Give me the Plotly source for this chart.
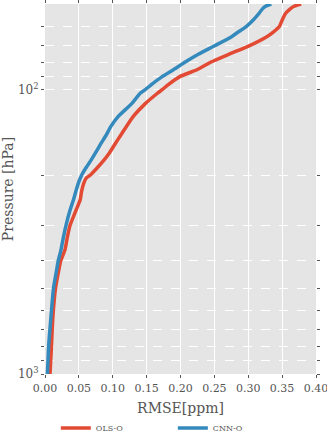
import math
import plotly.graph_objects as go

# pressure levels [hPa] and RMSE [ppm]
pressure = [1000, 900, 800, 700, 600, 500, 430, 400, 365, 330, 300, 265, 244, 228,
            214, 205, 200, 189, 177, 167, 155, 145, 135, 124, 112, 103, 100, 96, 90,
            85, 80, 75, 70, 65, 63, 60, 57, 54, 52, 51, 50]

ols_o = [0.0074, 0.0084, 0.0095, 0.0106, 0.0123, 0.0155, 0.0205, 0.0232, 0.0296, 0.033,
         0.037, 0.0459, 0.052, 0.054, 0.057, 0.0607, 0.0666, 0.0765, 0.087, 0.095,
         0.1036, 0.1115, 0.120, 0.1306, 0.148, 0.166, 0.173, 0.182, 0.199, 0.225,
         0.245, 0.272, 0.302, 0.328, 0.336, 0.346, 0.350, 0.355, 0.362, 0.367, 0.378]

cnn_o = [0.0035, 0.0044, 0.0053, 0.0072, 0.0095, 0.0125, 0.0172, 0.0195, 0.0237, 0.0272,
         0.031, 0.037, 0.042, 0.0455, 0.049, 0.052, 0.054, 0.060, 0.068, 0.0745,
         0.0824, 0.090, 0.097, 0.1085, 0.128, 0.1405, 0.148, 0.157, 0.173, 0.190,
         0.207, 0.227, 0.251, 0.276, 0.284, 0.297, 0.307, 0.3156, 0.321, 0.325, 0.334]

x_ticks = [0.0, 0.05, 0.1, 0.15, 0.2, 0.25, 0.3, 0.35, 0.4]
x_tick_text = ["0.00", "0.05", "0.10", "0.15", "0.20", "0.25", "0.30", "0.35", "0.40"]
y_major = [100, 1000]
y_major_text = ["10<sup>2</sup>", "10<sup>3</sup>"]
y_minor = [60, 70, 80, 90, 200, 300, 400, 500, 600, 700, 800, 900]

font_family = "DejaVu Serif"
grey = "#555555"

# all y ticks; minor ones get no label and a dashed grid line
y_ticks = y_minor + y_major
y_tick_text = [""] * len(y_minor) + y_major_text

fig = go.Figure()

fig.add_trace(go.Scatter(
    x=ols_o, y=pressure, mode="lines", name="OLS-O",
    line=dict(color="#E24A33", width=3.5, shape="spline", smoothing=0.5),
))
fig.add_trace(go.Scatter(
    x=cnn_o, y=pressure, mode="lines", name="CNN-O",
    line=dict(color="#348ABD", width=3.5, shape="spline", smoothing=0.5),
))

# solid grid line for the decades (log axis shapes use log10 units)
for p in y_major:
    fig.add_hline(y=math.log10(p), line=dict(color="white", width=1), layer="below")

fig.update_layout(
    width=327, height=437,
    margin=dict(l=45, r=11, t=4, b=63, autoexpand=False),
    plot_bgcolor="#E5E5E5",
    paper_bgcolor="white",
    font=dict(family=font_family, color=grey, size=11),
    showlegend=True,
    legend=dict(
        orientation="h", x=0.04, y=-0.146, xanchor="left", yanchor="middle",
        font=dict(size=8, color=grey), entrywidth=72, entrywidthmode="pixels",
        bgcolor="rgba(0,0,0,0)",
    ),
    xaxis=dict(
        range=[0, 0.4], tickmode="array", tickvals=x_ticks, ticktext=x_tick_text,
        showgrid=True, gridcolor="white", gridwidth=1,
        zeroline=False, showline=False, automargin=False,
        ticks="outside", ticklen=3, tickcolor=grey, mirror="ticks",
        tickfont=dict(size=11, color=grey), ticklabelstandoff=1,
        ticklabeloverflow="allow",
        title=dict(text="RMSE[ppm]", font=dict(size=14, color=grey), standoff=8),
    ),
    yaxis=dict(
        type="log", range=[3, math.log10(50)],
        tickmode="array", tickvals=y_ticks, ticktext=y_tick_text,
        showgrid=True, gridcolor="white", gridwidth=1, griddash="dash",
        zeroline=False, showline=False, automargin=False,
        ticks="outside", ticklen=3, tickcolor=grey, mirror="ticks",
        tickfont=dict(size=12, color=grey),
        title=dict(text="Pressure [hPa]", font=dict(size=14, color=grey), standoff=8),
    ),
)

# drop the default page margin so the figure sits at the window corner
fig.write_html("out.html", config={"displayModeBar": False},
               post_script="document.body.style.margin = '0';")
